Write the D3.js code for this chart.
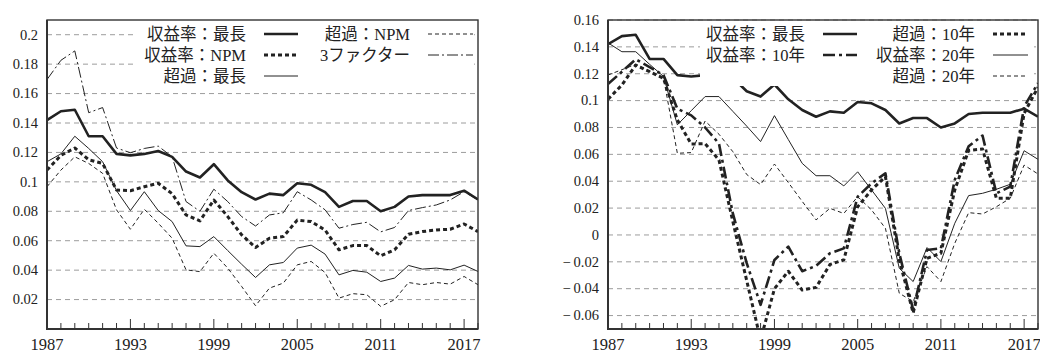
<!DOCTYPE html>
<html>
<head>
<meta charset="utf-8">
<script src="https://cdn.jsdelivr.net/npm/d3@7"></script>
<style>
  body { margin: 0; background: #fff; }
  svg { display: block; }
  text { fill: #222; font-family: "Liberation Serif", "DejaVu Serif", "Noto Sans CJK JP", serif; }
</style>
</head>
<body>
<svg width="1040" height="353"></svg>
<script>
const years = [1987, 1988, 1989, 1990, 1991, 1992, 1993, 1994, 1995, 1996, 1997, 1998, 1999, 2000, 2001, 2002,
               2003, 2004, 2005, 2006, 2007, 2008, 2009, 2010, 2011, 2012, 2013, 2014, 2015, 2016, 2017, 2018];
const yearLabels = [1987, 1993, 1999, 2005, 2011, 2017];

// left panel
const retLongest = [0.142, 0.148, 0.149, 0.131, 0.131, 0.119, 0.118, 0.119, 0.121, 0.117, 0.107, 0.103, 0.112, 0.101, 0.093, 0.088,
                    0.092, 0.091, 0.099, 0.098, 0.093, 0.083, 0.087, 0.087, 0.080, 0.083, 0.090, 0.091, 0.091, 0.091, 0.094, 0.088];
const retNPM = [0.108, 0.118, 0.123, 0.115, 0.1125, 0.0945, 0.094, 0.0967, 0.099, 0.092, 0.0775, 0.0735, 0.0877, 0.0764, 0.064, 0.0554,
                0.0617, 0.0628, 0.074, 0.073, 0.0673, 0.0538, 0.0567, 0.0567, 0.0497, 0.0538, 0.0644, 0.0662, 0.0673, 0.0678, 0.0714, 0.0662];
const excLongest = [0.1137, 0.119, 0.131, 0.1227, 0.1137, 0.094, 0.0805, 0.0933, 0.0805, 0.073, 0.0565, 0.056, 0.0628, 0.0533, 0.044, 0.035,
                    0.0436, 0.0452, 0.055, 0.057, 0.0509, 0.0368, 0.0398, 0.0386, 0.0323, 0.0346, 0.0432, 0.0407, 0.0414, 0.0402, 0.0434, 0.0391];
const excNPM = [0.0967, 0.108, 0.117, 0.1125, 0.1058, 0.081, 0.0678, 0.0814, 0.0719, 0.0617, 0.0402, 0.039, 0.0515, 0.0414, 0.0289, 0.0158,
                0.0278, 0.0312, 0.0436, 0.0459, 0.0384, 0.021, 0.024, 0.0233, 0.0154, 0.0199, 0.0316, 0.0301, 0.0316, 0.0305, 0.0357, 0.0301];
const threeFactor = [0.1695, 0.1826, 0.189, 0.147, 0.1505, 0.123, 0.1198, 0.1227, 0.1243, 0.117, 0.0866, 0.080, 0.095, 0.0866, 0.0764, 0.070,
                     0.0775, 0.079, 0.0933, 0.0877, 0.081, 0.0685, 0.071, 0.0725, 0.066, 0.069, 0.0805, 0.0825, 0.0843, 0.0877, 0.0933, 0.0877];

// right panel
const ret10 = [0.1123, 0.1215, 0.1307, 0.125, 0.119, 0.094, 0.089, 0.080, 0.068, 0.016, -0.021, -0.052, -0.0186, -0.0087, -0.027, -0.023,
               -0.0136, -0.010, 0.0285, 0.0384, 0.0459, -0.0136, -0.0558, -0.0112, -0.010, 0.041, 0.066, 0.074, 0.031, 0.036, 0.0955, 0.113];
const exc10 = [0.101, 0.1116, 0.1265, 0.1215, 0.1166, 0.0856, 0.0677, 0.068, 0.0558, 0.010, -0.034, -0.078, -0.040, -0.027, -0.041, -0.039,
               -0.022, -0.0186, 0.021, 0.0335, 0.0434, -0.0186, -0.058, -0.0174, -0.0136, 0.0335, 0.063, 0.064, 0.0273, 0.0273, 0.0905, 0.110];
const ret20 = [0.143, 0.1364, 0.1364, 0.127, 0.118, 0.082, 0.0925, 0.103, 0.103, 0.092, 0.081, 0.0695, 0.0888, 0.071, 0.0533, 0.0441,
               0.0441, 0.0365, 0.047, 0.0335, 0.0198, -0.0248, -0.0347, -0.0094, -0.0198, 0.0087, 0.0293, 0.031, 0.034, 0.0377, 0.0627, 0.0563];
const exc20 = [0.119, 0.123, 0.127, 0.122, 0.117, 0.0608, 0.0613, 0.0848, 0.075, 0.062, 0.045, 0.0375, 0.0528, 0.039, 0.025, 0.0112,
               0.0198, 0.016, 0.0285, 0.0186, 0.005, -0.0434, -0.0496, -0.0236, -0.0347, -0.0062, 0.0166, 0.0156, 0.021, 0.0273, 0.052, 0.0454];

const leftTicks = [0.02, 0.04, 0.06, 0.08, 0.1, 0.12, 0.14, 0.16, 0.18, 0.2];
const rightTicks = [-0.06, -0.04, -0.02, 0, 0.02, 0.04, 0.06, 0.08, 0.1, 0.12, 0.14, 0.16];

const styles = {
  thickSolid:   {w: 2.6, dash: null},
  thickDot:     {w: 3, dash: '4,3'},
  thickDashDot: {w: 2.6, dash: '12,4,3,4'},
  thinSolid:    {w: 1, dash: null},
  thinDash:     {w: 1, dash: '4,3'},
  thinDashDot:  {w: 1, dash: '11,3,2,3'}
};

const svg = d3.select('svg');

function drawPanel(p, id) {
  const x = d3.scaleLinear().domain([1987, 2018]).range([p.left, p.right]);
  const y = d3.scaleLinear().domain(p.yDomain).range([p.bottom, p.top]);
  const g = svg.append('g');

  g.append('clipPath').attr('id', 'clip' + id)
    .append('rect')
      .attr('x', p.left).attr('y', p.top)
      .attr('width', p.right - p.left).attr('height', p.bottom - p.top);

  // grid
  g.append('g').selectAll('line').data(p.ticks).enter().append('line')
      .attr('x1', p.left).attr('x2', p.right)
      .attr('y1', d => y(d)).attr('y2', d => y(d))
      .attr('stroke', '#9c9c9c').attr('stroke-width', 1).attr('stroke-dasharray', '5,4');

  // y labels
  const fmt = d => d === 0 ? '0' : (d < 0 ? '\u2212\u2009' + d3.format('~g')(-d) : d3.format('~g')(d));
  g.append('g').selectAll('text').data(p.ticks).enter().append('text')
      .attr('x', p.left - 9).attr('y', d => y(d) + 4.8)
      .attr('text-anchor', 'end')
      .style('font-size', '14.5px')
      .text(fmt);

  // series
  const line = d3.line().x((d, i) => x(years[i])).y(d => y(d));
  const sg = g.append('g').attr('clip-path', 'url(#clip' + id + ')');
  p.series.forEach(s => {
    const st = styles[s.style];
    sg.append('path').datum(s.values)
        .attr('d', line)
        .attr('fill', 'none')
        .attr('stroke', '#222')
        .attr('stroke-width', st.w)
        .attr('stroke-dasharray', st.dash)
        .attr('stroke-linejoin', 'round');
  });

  // legend
  const lg = g.append('g');
  lg.append('rect')
      .attr('x', p.legend.x0).attr('y', p.top + 1)
      .attr('width', p.legend.x1 - p.legend.x0).attr('height', 65)
      .attr('fill', '#fff');
  p.series.forEach(s => {
    const col = p.legend.cols[s.col];
    const yy = 34 + s.row * 21;
    const st = styles[s.style];
    lg.append('text')
        .attr('x', col.textEnd).attr('y', yy + 6)
        .attr('text-anchor', 'end')
        .style('font-size', '16.5px')
        .text(s.name);
    lg.append('line')
        .attr('x1', col.lineStart).attr('x2', col.lineEnd)
        .attr('y1', yy).attr('y2', yy)
        .attr('stroke', '#222')
        .attr('stroke-width', st.w)
        .attr('stroke-dasharray', st.dash);
  });

  // ticks on bottom axis, pointing up
  g.append('g').selectAll('line').data(years).enter().append('line')
      .attr('x1', d => x(d)).attr('x2', d => x(d))
      .attr('y1', p.bottom)
      .attr('y2', d => p.bottom - (yearLabels.includes(d) ? 10 : 6))
      .attr('stroke', '#333').attr('stroke-width', 1);

  g.append('g').selectAll('text').data(yearLabels).enter().append('text')
      .attr('x', d => x(d)).attr('y', 350)
      .attr('text-anchor', 'middle')
      .style('font-size', '16.5px')
      .text(d => d);

  // frame
  g.append('rect')
      .attr('x', p.left).attr('y', p.top)
      .attr('width', p.right - p.left).attr('height', p.bottom - p.top)
      .attr('fill', 'none').attr('stroke', '#333').attr('stroke-width', 1.4);
  g.append('path')
      .attr('d', `M${p.left},${p.top}V${p.bottom}H${p.right}`)
      .attr('fill', 'none').attr('stroke', '#333').attr('stroke-width', 2);
}

drawPanel({
  left: 47, right: 478, top: 20, bottom: 329,
  yDomain: [0, 0.21], ticks: leftTicks,
  legend: {x0: 137, x1: 474, cols: [
    {textEnd: 246, lineStart: 264, lineEnd: 298},
    {textEnd: 410, lineStart: 428, lineEnd: 473}
  ]},
  series: [
    {name: '収益率：最長', values: retLongest, style: 'thickSolid', col: 0, row: 0},
    {name: '収益率：NPM', values: retNPM, style: 'thickDot', col: 0, row: 1},
    {name: '超過：最長', values: excLongest, style: 'thinSolid', col: 0, row: 2},
    {name: '超過：NPM', values: excNPM, style: 'thinDash', col: 1, row: 0},
    {name: '3ファクター', values: threeFactor, style: 'thinDashDot', col: 1, row: 1}
  ]
}, 'L');

drawPanel({
  left: 608, right: 1038, top: 20, bottom: 329,
  yDomain: [-0.07, 0.16], ticks: rightTicks,
  legend: {x0: 700, x1: 1034, cols: [
    {textEnd: 805, lineStart: 823, lineEnd: 857},
    {textEnd: 975, lineStart: 993, lineEnd: 1028}
  ]},
  series: [
    {name: '収益率：最長', values: retLongest, style: 'thickSolid', col: 0, row: 0},
    {name: '収益率：10年', values: ret10, style: 'thickDashDot', col: 0, row: 1},
    {name: '超過：10年', values: exc10, style: 'thickDot', col: 1, row: 0},
    {name: '収益率：20年', values: ret20, style: 'thinSolid', col: 1, row: 1},
    {name: '超過：20年', values: exc20, style: 'thinDash', col: 1, row: 2}
  ]
}, 'R');
</script>
</body>
</html>
